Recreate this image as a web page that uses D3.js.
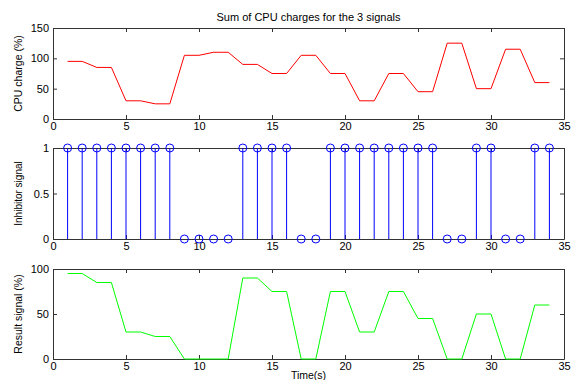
<!DOCTYPE html>
<html>
<head>
<meta charset="utf-8">
<script src="https://cdn.jsdelivr.net/npm/d3@7"></script>
<style>
  body { margin: 0; background: #fff; }
  svg { display: block; font-family: "Liberation Sans", Arial, sans-serif; }
  .domain { stroke: #333; }
  .tick line { stroke: #333; }
  .tick text { fill: #000; font-size: 11px; }
</style>
</head>
<body>
<svg id="chart" width="572" height="380"></svg>
<script>
// time axis samples (s)
const times = d3.range(1, 35);
const cpuCharge = [95, 95, 85, 85, 30, 30, 25, 25, 105, 105, 110, 110, 90, 90, 75, 75, 105,
  105, 75, 75, 30, 30, 75, 75, 45, 45, 125, 125, 50, 50, 115, 115, 60, 60];
const inhibitor = [1, 1, 1, 1, 1, 1, 1, 1, 0, 0, 0, 0, 1, 1, 1, 1, 0,
  0, 1, 1, 1, 1, 1, 1, 1, 1, 0, 0, 1, 1, 0, 0, 1, 1];
const resultSignal = [95, 95, 85, 85, 30, 30, 25, 25, 0, 0, 0, 0, 90, 90, 75, 75, 0,
  0, 75, 75, 30, 30, 75, 75, 45, 45, 0, 0, 50, 50, 0, 0, 60, 60];
const xTicks = [0, 5, 10, 15, 20, 25, 30, 35];

const svg = d3.select('#chart');
const left = 53, right = 564;

const x = d3.scaleLinear().domain([0, 35]).range([left, right]);

function panel(top, bottom, yDomain, yTicks, yFormat, label, labelSize) {
  const y = d3.scaleLinear().domain(yDomain).range([bottom, top]);
  const g = svg.append('g');

  g.append('g')
    .attr('transform', `translate(0,${bottom})`)
    .call(d3.axisBottom(x).tickValues(xTicks).tickSizeInner(-4).tickSizeOuter(0).tickPadding(3));
  g.append('g')
    .attr('transform', `translate(0,${top})`)
    .call(d3.axisTop(x).tickValues(xTicks).tickSizeInner(-4).tickSizeOuter(0).tickFormat(''));
  g.append('g')
    .attr('transform', `translate(${left},0)`)
    .call(d3.axisLeft(y).tickValues(yTicks).tickFormat(yFormat).tickSizeInner(-4).tickSizeOuter(0).tickPadding(4));
  g.append('g')
    .attr('transform', `translate(${right},0)`)
    .call(d3.axisRight(y).tickValues(yTicks).tickSizeInner(-4).tickSizeOuter(0).tickFormat(''));

  g.append('text')
    .attr('transform', `translate(22,${(top + bottom) / 2}) rotate(-90)`)
    .attr('text-anchor', 'middle')
    .attr('font-size', labelSize)
    .text(label);
  return {g, y};
}

// top: CPU charge
const p1 = panel(28, 119, [0, 150], [0, 50, 100, 150], d3.format('d'), 'CPU charge (%)', 10.5);
p1.g.append('path')
  .datum(times)
  .attr('fill', 'none')
  .attr('stroke', '#ff0000')
  .attr('stroke-width', 1)
  .attr('d', d3.line().x(d => x(d)).y((d, i) => p1.y(cpuCharge[i])));

// middle: inhibitor stem plot
const p2 = panel(148, 239, [0, 1], [0, 0.5, 1], d => d === 0.5 ? '0.5' : d3.format('d')(d), 'Inhibitor signal', 10);
p2.g.selectAll('line.stem')
  .data(times)
  .enter()
  .append('line')
  .attr('class', 'stem')
  .attr('x1', d => x(d))
  .attr('x2', d => x(d))
  .attr('y1', p2.y(0))
  .attr('y2', (d, i) => p2.y(inhibitor[i]))
  .attr('stroke', '#0000ff')
  .attr('stroke-width', 1);
p2.g.selectAll('circle.mark')
  .data(times)
  .enter()
  .append('circle')
  .attr('class', 'mark')
  .attr('cx', d => x(d))
  .attr('cy', (d, i) => p2.y(inhibitor[i]))
  .attr('r', 4)
  .attr('fill', 'none')
  .attr('stroke', '#0000ff')
  .attr('stroke-width', 1);

// bottom: result signal
const p3 = panel(269, 359, [0, 100], [0, 50, 100], d3.format('d'), 'Result signal (%)', 10.5);
p3.g.append('path')
  .datum(times)
  .attr('fill', 'none')
  .attr('stroke', '#00ff00')
  .attr('stroke-width', 1)
  .attr('d', d3.line().x(d => x(d)).y((d, i) => p3.y(resultSignal[i])));

svg.append('text')
  .attr('x', (left + right) / 2)
  .attr('y', 21)
  .attr('text-anchor', 'middle')
  .attr('font-size', 11)
  .text('Sum of CPU charges for the 3 signals');

svg.append('text')
  .attr('x', (left + right) / 2)
  .attr('y', 379)
  .attr('text-anchor', 'middle')
  .attr('font-size', 10.5)
  .text('Time(s)');
</script>
</body>
</html>
